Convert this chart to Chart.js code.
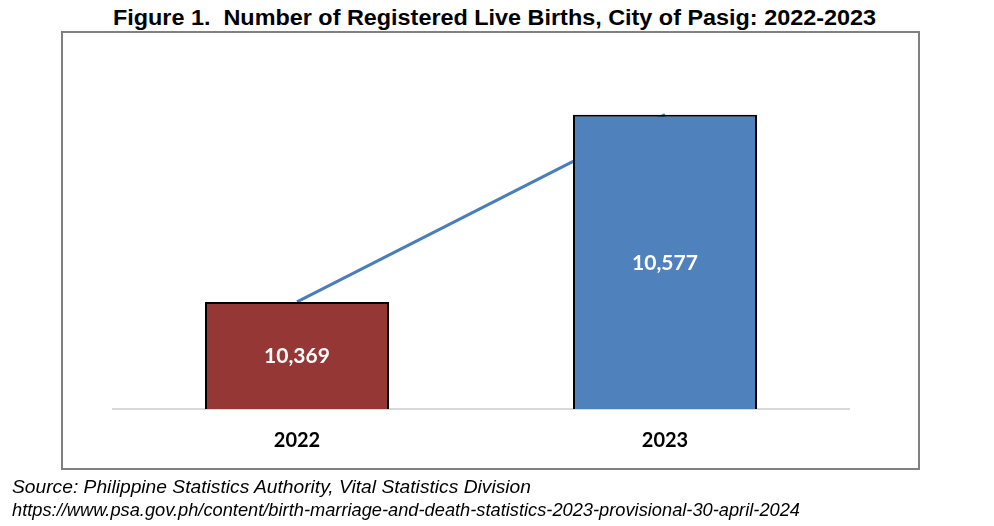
<!DOCTYPE html>
<html>
<head>
<meta charset="utf-8">
<script src="https://cdn.jsdelivr.net/npm/chart.js@4.4.1/dist/chart.umd.min.js"></script>
<style>
  body { margin: 0; background: #fff; }
  #page { position: relative; width: 994px; height: 526px; overflow: hidden; }
  .fit { position: absolute; white-space: nowrap; transform-origin: 0 0; color: #000; }
  #title { top: 5px; font: bold 22px "Liberation Sans", Arial, sans-serif; }
  #frame { position: absolute; left: 61px; top: 31px; width: 855px; height: 435px; border: 2px solid #808080; }
  #wrap { position: absolute; left: 0; top: 0; width: 994px; height: 526px; }
  .src { font: italic 18px "Liberation Sans", Arial, sans-serif; }
</style>
</head>
<body>
<div id="page">
  <div id="title" class="fit" data-left="113" data-width="763">Figure 1.&nbsp; Number of Registered Live Births, City of Pasig: 2022-2023</div>
  <div id="frame"></div>
  <div id="wrap"><canvas id="birthChart"></canvas></div>
  <div class="fit src" style="top:477px;" data-left="12" data-width="519">Source: Philippine Statistics Authority, Vital Statistics Division</div>
  <div class="fit src" style="top:500px;" data-left="12" data-width="788">https://www.psa.gov.ph/content/birth-marriage-and-death-statistics-2023-provisional-30-april-2024</div>
</div>
<script>
// data
const years = ['2022', '2023'];
const births = [10369, 10577];
const barColors = ['#953735', '#4F81BD'];

// stretch the text lines to the reference widths
document.querySelectorAll('.fit').forEach(el => {
    const w = el.getBoundingClientRect().width;
    el.style.left = el.dataset.left + 'px';
    el.style.transform = 'scaleX(' + (el.dataset.width / w) + ')';
});

function withComma(n) {
    return String(n).replace(/\B(?=(\d{3})+(?!\d))/g, ',');
}

// value labels inside bars (base is off-canvas since the axis doesn't start at 0)
const barLabels = {
    id: 'barLabels',
    afterDatasetsDraw(chart) {
        const c = chart.ctx;
        const bottom = chart.chartArea.bottom;
        const meta = chart.getDatasetMeta(0);
        c.save();
        c.fillStyle = '#ffffff';
        c.font = 'bold 21px Lato, sans-serif';
        c.textAlign = 'center';
        c.textBaseline = 'middle';
        meta.data.forEach((bar, i) => {
            const base = Math.min(bar.base, bottom);
            c.fillText(withComma(births[i]), bar.x, (bar.y + base) / 2 + 1);
        });
        c.restore();
    }
};

const ctx = document.getElementById('birthChart').getContext('2d');
new Chart(ctx, {
    data: {
        labels: years,
        datasets: [
            {
                type: 'bar',
                data: births,
                backgroundColor: barColors,
                borderColor: '#000000',
                borderWidth: 2,
                barPercentage: 0.5,
                categoryPercentage: 1,
                order: 1
            },
            {
                type: 'line',
                data: births,
                borderColor: '#4A7EBB',
                borderWidth: 3,
                pointRadius: 0,
                order: 2
            }
        ]
    },
    options: {
        responsive: true,
        maintainAspectRatio: false,
        animation: false,
        layout: { padding: { left: 113, right: 145, top: 49, bottom: 53 } },
        scales: {
            x: {
                grid: { display: false, drawTicks: false },
                border: { color: '#d9d9d9', width: 2 },
                ticks: {
                    color: '#000',
                    padding: 20,
                    font: { family: 'Lato, "Noto Sans", sans-serif', size: 20, weight: 'bold' }
                }
            },
            y: {
                display: false,
                min: 10250,
                max: 10650
            }
        },
        plugins: {
            legend: { display: false },
            tooltip: { enabled: false }
        }
    },
    plugins: [barLabels]
});
</script>
</body>
</html>
